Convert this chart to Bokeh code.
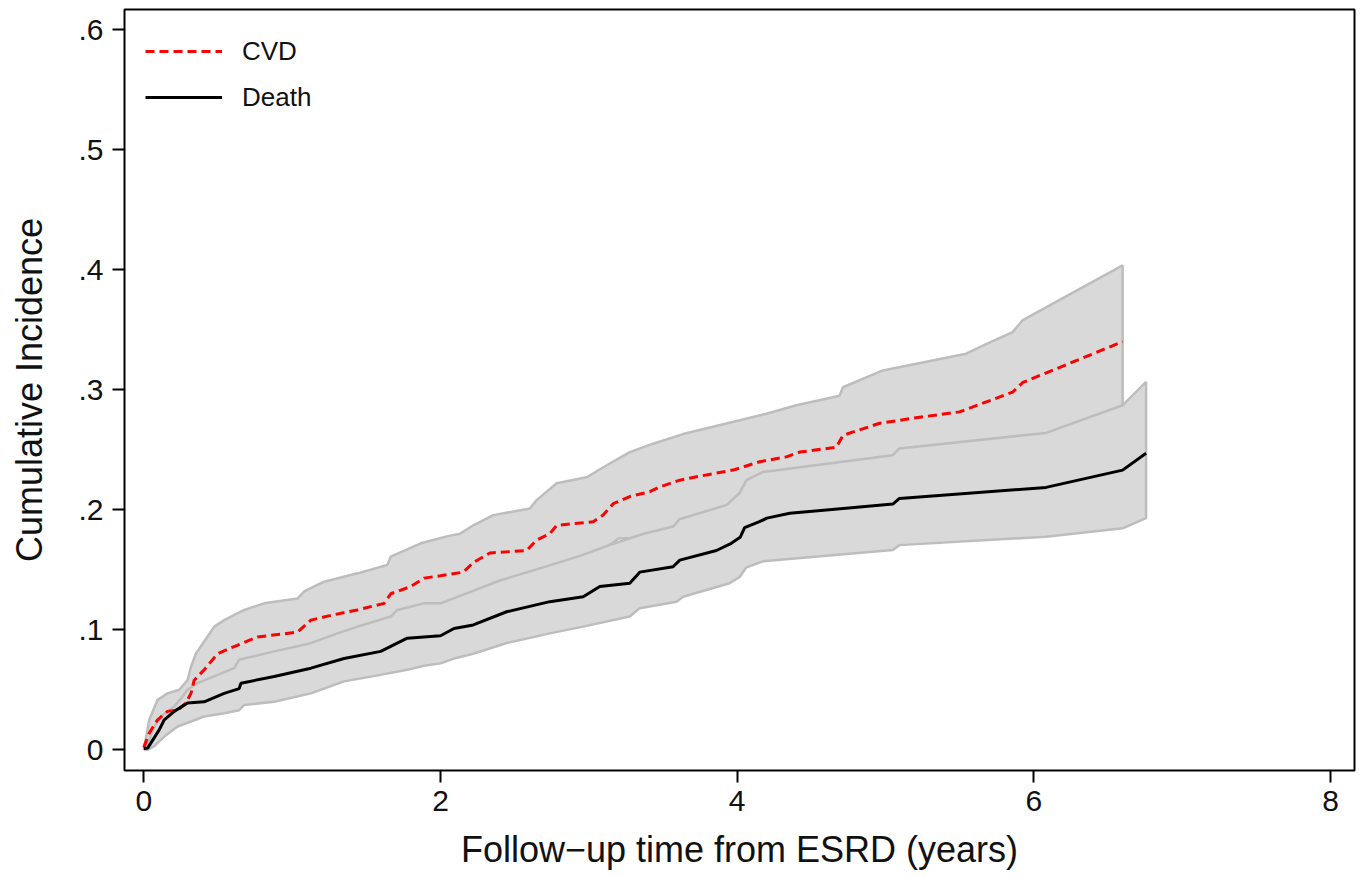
from bokeh.plotting import figure
from bokeh.models import Legend, LegendItem, FixedTicker, Range1d
from bokeh.embed import file_html
from bokeh.resources import INLINE

# ---------------- data ----------------
# CVD cumulative incidence (point estimate)
cvd_t = [0.0, 0.037, 0.093, 0.160, 0.228, 0.284, 0.318, 0.340, 0.407, 0.497, 0.609, 0.766,
         1.036, 1.126, 1.261, 1.440, 1.620, 1.665, 1.799, 1.889, 2.000, 2.154, 2.221, 2.333,
         2.580, 2.648, 2.737, 2.783, 3.029, 3.096, 3.164, 3.276, 3.411, 3.478, 3.613, 3.793,
         3.972, 4.152, 4.331, 4.421, 4.668, 4.713, 4.960, 5.229, 5.498, 5.588, 5.857, 5.925, 6.598]
cvd_est = [0.002, 0.014, 0.025, 0.032, 0.033, 0.039, 0.047, 0.058, 0.0666, 0.080, 0.086, 0.094,
           0.098, 0.108, 0.112, 0.1165, 0.122, 0.130, 0.136, 0.143, 0.145, 0.148, 0.156, 0.164,
           0.166, 0.1747, 0.180, 0.187, 0.190, 0.1955, 0.205, 0.211, 0.215, 0.219, 0.2246, 0.229,
           0.233, 0.240, 0.244, 0.248, 0.252, 0.262, 0.272, 0.277, 0.2815, 0.2856, 0.298, 0.306, 0.340]

# CVD 95% CI upper bound
cvd_hi_t = [0.0, 0.037, 0.093, 0.160, 0.239, 0.295, 0.318, 0.351, 0.475, 0.542, 0.677, 0.811,
            1.036, 1.081, 1.215, 1.440, 1.642, 1.665, 1.867, 2.050, 2.131, 2.221, 2.356, 2.603,
            2.648, 2.783, 2.985, 3.141, 3.276, 3.433, 3.635, 4.017, 4.197, 4.399, 4.690, 4.713,
            4.982, 5.543, 5.678, 5.857, 5.925, 6.598]
cvd_hi = [0.0, 0.025, 0.0416, 0.047, 0.050, 0.058, 0.069, 0.080, 0.1026, 0.108, 0.1165, 0.122,
          0.126, 0.132, 0.140, 0.147, 0.154, 0.161, 0.172, 0.178, 0.180, 0.187, 0.1955, 0.201,
          0.208, 0.222, 0.227, 0.2385, 0.248, 0.255, 0.263, 0.2745, 0.280, 0.287, 0.295, 0.302,
          0.316, 0.330, 0.338, 0.348, 0.358, 0.4035]

# CVD 95% CI lower bound
cvd_lo_t = [0.0, 0.04, 0.10, 0.20, 0.30, 0.40, 0.50, 0.70, 1.00, 1.30, 1.65, 2.00, 2.33, 2.65,
            2.80, 3.00, 3.15, 3.20, 3.30, 3.35, 3.60, 4.00, 4.15, 4.40, 4.70, 5.00, 5.50, 5.90,
            6.10, 6.598]
cvd_lo = [0.0, 0.006, 0.013, 0.021, 0.033, 0.044, 0.053, 0.065, 0.076, 0.085, 0.098, 0.117,
          0.134, 0.146, 0.150, 0.160, 0.1715, 0.176, 0.1765, 0.178, 0.186, 0.200, 0.207, 0.215,
          0.225, 0.237, 0.248, 0.255, 0.260, 0.287]

# Death cumulative incidence (point estimate)
death_t = [0.0, 0.026, 0.104, 0.138, 0.205, 0.295, 0.407, 0.542, 0.643, 0.655, 0.879, 1.126,
           1.350, 1.597, 1.776, 2.000, 2.091, 2.221, 2.446, 2.737, 2.962, 3.074, 3.276, 3.343,
           3.568, 3.613, 3.860, 3.960, 4.020, 4.050, 4.150, 4.200, 4.354, 5.049, 5.094, 6.082,
           6.598, 6.756]
death_est = [0.001, 0.0014, 0.0166, 0.025, 0.032, 0.039, 0.040, 0.047, 0.051, 0.0555, 0.061, 0.068,
             0.076, 0.082, 0.093, 0.095, 0.101, 0.104, 0.115, 0.1234, 0.1275, 0.136, 0.1387, 0.148,
             0.1525, 0.158, 0.166, 0.172, 0.177, 0.185, 0.190, 0.193, 0.197, 0.2047, 0.2094, 0.2186,
             0.233, 0.247]

# Death 95% CI upper bound
death_hi_t = [0.0, 0.015, 0.059, 0.116, 0.205, 0.261, 0.295, 0.362, 0.497, 0.609, 0.643, 0.879,
              1.126, 1.305, 1.440, 1.665, 1.709, 1.889, 2.000, 2.150, 2.400, 2.720, 2.950, 3.150,
              3.370, 3.570, 3.610, 3.930, 4.017, 4.062, 4.174, 5.049, 5.094, 6.082, 6.598, 6.756]
death_hi = [0.0, 0.0, 0.0166, 0.0277, 0.036, 0.0443, 0.050, 0.0555, 0.0624, 0.068, 0.075, 0.082,
            0.0888, 0.097, 0.1026, 0.111, 0.1165, 0.122, 0.122, 0.129, 0.141, 0.153, 0.162, 0.171,
            0.180, 0.186, 0.192, 0.204, 0.214, 0.2246, 0.2315, 0.2454, 0.251, 0.264, 0.287, 0.3064]

# Death 95% CI lower bound
death_lo_t = [0.0, 0.026, 0.071, 0.138, 0.228, 0.318, 0.407, 0.542, 0.643, 0.677, 0.879, 1.126,
              1.350, 1.597, 1.776, 1.889, 2.000, 2.091, 2.221, 2.446, 2.737, 2.962, 3.276, 3.343,
              3.591, 3.635, 3.949, 4.017, 4.062, 4.174, 5.049, 5.094, 6.082, 6.598, 6.756]
death_lo = [0.0, 0.0, 0.003, 0.011, 0.0194, 0.0236, 0.0277, 0.0305, 0.033, 0.0374, 0.040, 0.047,
            0.057, 0.0624, 0.0666, 0.070, 0.072, 0.076, 0.080, 0.089, 0.097, 0.1026, 0.111, 0.118,
            0.1234, 0.1275, 0.1387, 0.144, 0.152, 0.157, 0.1664, 0.1705, 0.1775, 0.1845, 0.193]

x_ticks = [0, 2, 4, 6, 8]
x_tick_labels = ["0", "2", "4", "6", "8"]
y_ticks = [0, 0.1, 0.2, 0.3, 0.4, 0.5, 0.6]
y_tick_labels = ["0", ".1", ".2", ".3", ".4", ".5", ".6"]

series_names = ["CVD", "Death"]
x_title = "Follow\u2212up time from ESRD (years)"
y_title = "Cumulative Incidence"

# ---------------- figure ----------------
FONT = "Liberation Sans"
BAND_FILL = "#d9d9d9"
BAND_LINE = "#bdbdbd"

p = figure(width=1360, height=876, output_backend="svg", toolbar_location=None,
           x_range=Range1d(-0.130, 8.161), y_range=Range1d(-0.01725, 0.6167),
           min_border_left=124, min_border_right=6, min_border_top=9, min_border_bottom=106,
           background_fill_color="white", border_fill_color="white")

p.xgrid.visible = False
p.ygrid.visible = False
p.outline_line_color = "black"
p.outline_line_width = 2

# CI bands (CVD first, Death on top)
p.patch(cvd_hi_t + cvd_lo_t[::-1], cvd_hi + cvd_lo[::-1],
        fill_color=BAND_FILL, line_color=BAND_LINE, line_width=2.5)
p.patch(death_hi_t + death_lo_t[::-1], death_hi + death_lo[::-1],
        fill_color=BAND_FILL, line_color=BAND_LINE, line_width=2.5)

# estimates
r_cvd = p.line(cvd_t, cvd_est, line_color="#ff0000", line_width=3, line_dash="9 5")
r_death = p.line(death_t, death_est, line_color="black", line_width=3)

# axes
for ax in (p.xaxis[0], p.yaxis[0]):
    ax.axis_line_color = None
    ax.major_tick_line_color = "black"
    ax.major_tick_line_width = 2
    ax.major_tick_out = 12
    ax.major_tick_in = 0
    ax.minor_tick_line_color = None
    ax.major_label_text_font = FONT
    ax.major_label_text_font_size = "30px"
    ax.major_label_text_color = "#111111"
    ax.axis_label_text_font = FONT
    ax.axis_label_text_font_size = "36px"
    ax.axis_label_text_font_style = "normal"
    ax.axis_label_text_color = "#111111"

p.xaxis.ticker = FixedTicker(ticks=x_ticks)
p.xaxis.major_label_overrides = dict(zip(x_ticks, x_tick_labels))
p.xaxis.major_label_standoff = 8
p.xaxis.axis_label = x_title
p.xaxis.axis_label_standoff = 15

p.yaxis.ticker = FixedTicker(ticks=y_ticks)
p.yaxis.major_label_overrides = dict(zip(y_ticks, y_tick_labels))
p.yaxis.major_label_orientation = "horizontal"
p.yaxis.major_label_standoff = 9
p.yaxis.axis_label = y_title
p.yaxis.axis_label_standoff = 25

legend = Legend(items=[LegendItem(label=series_names[0], renderers=[r_cvd]),
                       LegendItem(label=series_names[1], renderers=[r_death])],
                location="top_left")
legend.margin = 21
legend.padding = 10
legend.border_line_color = None
legend.background_fill_alpha = 0
legend.label_text_font = FONT
legend.label_text_font_size = "26px"
legend.label_text_color = "#111111"
legend.glyph_width = 77
legend.glyph_height = 42
legend.label_height = 42
legend.label_standoff = 20
legend.spacing = 4
p.add_layout(legend)

open("out.html", "w").write(file_html(p, INLINE))
